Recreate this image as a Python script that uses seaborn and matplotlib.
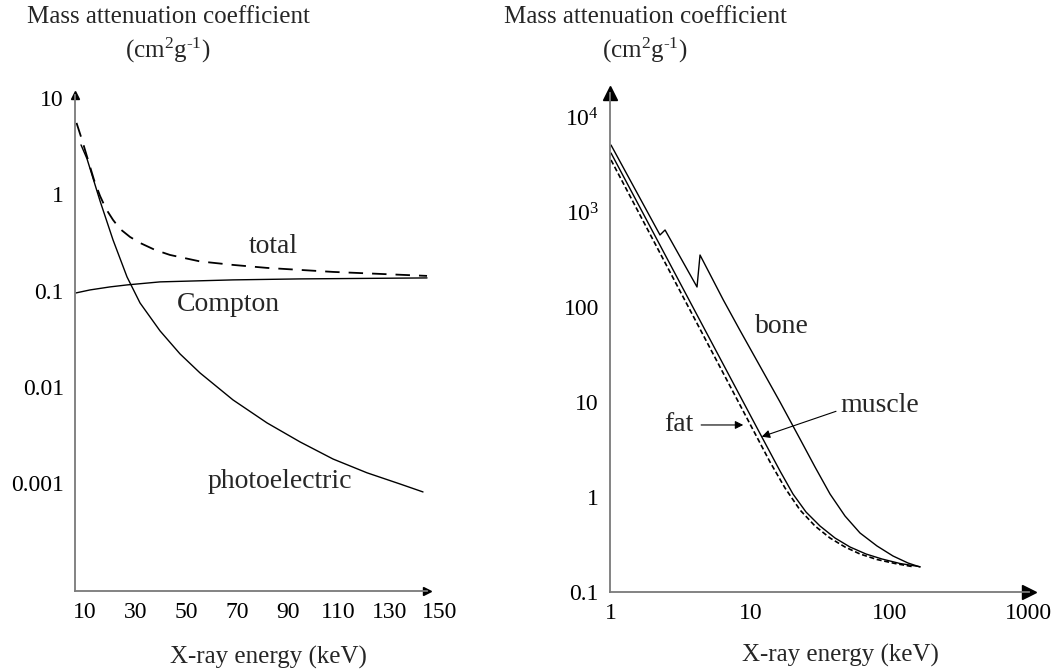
import matplotlib
matplotlib.use("Agg")
import matplotlib.pyplot as plt
from matplotlib.ticker import NullLocator
import seaborn as sns

# ---------------- left panel: water, linear energy axis ----------------
photo_energy = [8.42, 10.79, 15.92, 21.05, 26.57, 31.70, 39.59, 47.48, 55.36, 68.38,
                81.80, 94.81, 107.83, 121.24, 134.26, 143.33]
photo_value = [3.25, 2.33, 0.852, 0.335, 0.1384, 0.0743, 0.0381, 0.02196, 0.01394, 0.00731,
               0.00422, 0.00268, 0.00178, 0.00128, 0.00098, 0.00081]

total_energy = [6.65, 8.82, 11.18, 13.55, 15.92, 18.28, 21.05, 23.81, 27.75, 31.70,
                37.61, 43.53, 55.36, 68.38, 81.80, 107.83, 144.91]
total_value = [5.50, 3.66, 2.27, 1.408, 0.960, 0.704, 0.541, 0.436, 0.360, 0.312,
               0.264, 0.234, 0.2005, 0.1844, 0.1717, 0.156, 0.1418]

compton_energy = [6.45, 11.97, 19.86, 26.57, 39.59, 68.38, 94.81, 144.91]
compton_value = [0.0944, 0.1014, 0.109, 0.1143, 0.1229, 0.1289, 0.132, 0.1351]

left_xticks = [10, 30, 50, 70, 90, 110, 130, 150]
left_yticks = [10, 1, 0.1, 0.01, 0.001]
left_yticklabels = ["10", "1", "0.1", "0.01", "0.001"]

# ---------------- right panel: tissues, log energy axis ----------------
bone_energy = [1.0, 2.247, 2.443, 4.144, 4.355, 6.4, 8.4, 16.34, 22.74, 29.14, 37.35,
               47.84, 61.31, 81.22, 105.8, 135.6, 165.3]
bone_value = [5070, 573, 646.6, 162.4, 352.6, 118.6, 57.3, 10.0, 4.08, 2.07, 1.075,
              0.631, 0.418, 0.305, 0.2393, 0.2019, 0.1833]

muscle_energy = [1.0, 12.07, 16.34, 20.25, 25.11, 31.65, 40.56, 51.95, 67.70, 88.22,
                 118.8, 165.3]
muscle_value = [4180, 4.313, 1.878, 1.075, 0.695, 0.495, 0.370, 0.2977, 0.2512, 0.2225,
                0.1995, 0.1846]

fat_energy = [1.0, 13.85, 17.75, 22.74, 29.14, 37.35, 47.84, 61.31, 81.22, 109.4, 147.2]
fat_value = [3527, 2.336, 1.244, 0.730, 0.495, 0.370, 0.2977, 0.2512, 0.2198, 0.1995, 0.1846]

right_xticks = [1, 10, 100, 1000]
right_xticklabels = ["1", "10", "100", "1000"]
right_yticks = [0.1, 1, 10, 100, 1000, 10000]
right_yticklabels = ["0.1", "1", "10", "100", r"$10^3$", r"$10^4$"]

# ---------------- style ----------------
sns.set_theme(style="white")
plt.rcParams["font.family"] = ["Liberation Serif", "DejaVu Serif"]
plt.rcParams["mathtext.fontset"] = "custom"
plt.rcParams["mathtext.rm"] = "Liberation Serif"
plt.rcParams["mathtext.it"] = "Liberation Serif:italic"
plt.rcParams["mathtext.bf"] = "Liberation Serif:bold"

W, H = 1060, 672
fig = plt.figure(figsize=(W / 100, H / 100), dpi=100)
fig.patch.set_facecolor("white")

axL = fig.add_axes([75 / W, 81 / H, 377.6 / W, 496 / H])
axR = fig.add_axes([610.1 / W, 80 / H, 432.3 / W, 498.75 / H])

LW = 1.0
TICK_FS = 17
LABEL_FS = 20
TITLE_FS = 18
SPINE_C = "#7a7a7a"

# left curves
sns.lineplot(x=photo_energy, y=photo_value, ax=axL, color="black", lw=LW,
             estimator=None, sort=False)
sns.lineplot(x=compton_energy, y=compton_value, ax=axL, color="black", lw=LW,
             estimator=None, sort=False)
sns.lineplot(x=total_energy, y=total_value, ax=axL, color="black", lw=1.3,
             estimator=None, sort=False, linestyle=(0, (8, 5)))

# right curves
sns.lineplot(x=bone_energy, y=bone_value, ax=axR, color="black", lw=LW,
             estimator=None, sort=False)
sns.lineplot(x=muscle_energy, y=muscle_value, ax=axR, color="black", lw=LW,
             estimator=None, sort=False)
sns.lineplot(x=fat_energy, y=fat_value, ax=axR, color="black", lw=1.2,
             estimator=None, sort=False, linestyle=(0, (3, 1.6)))

for ax in (axL, axR):
    ax.set_yscale("log")
    ax.set_facecolor("white")
    ax.grid(False)
    for s in ("top", "right"):
        ax.spines[s].set_visible(False)
    for s in ("left", "bottom"):
        ax.spines[s].set_color(SPINE_C)
        ax.spines[s].set_linewidth(1.3)
    ax.set_xlabel("")
    ax.set_ylabel("")

# left axes setup
axL.set_xlim(6.05, 155)
axL.set_ylim(10 ** -4.12, 10 ** 1.03)
axL.spines["bottom"].set_bounds(6.05, 144.9)
axL.set_xticks(left_xticks)
axL.set_xticklabels([str(v) for v in left_xticks])
axL.set_yticks(left_yticks)
axL.set_yticklabels(left_yticklabels)
axL.yaxis.set_minor_locator(NullLocator())
axL.tick_params(axis="both", length=0, labelsize=TICK_FS, colors="black")
axL.tick_params(axis="y", pad=8)
axL.tick_params(axis="x", pad=8)
axL.plot(144.9, 0, ">", color="black", ms=6, transform=axL.get_xaxis_transform(), clip_on=False)
axL.plot(0, 1, "^", color="black", ms=6, transform=axL.transAxes, clip_on=False)

axL.text(84.2, 0.284, "total", fontsize=LABEL_FS, ha="center", va="center")
axL.text(66.4, 0.0708, "Compton", fontsize=LABEL_FS, ha="center", va="center")
axL.text(86.9, 0.00103, "photoelectric", fontsize=LABEL_FS, ha="center", va="center")

# right axes setup
axR.set_xscale("log")
axR.set_xlim(0.985, 1250)
axR.set_ylim(0.1, 10 ** 4.25)
axR.spines["bottom"].set_bounds(0.985, 1000)
axR.set_xticks(right_xticks)
axR.set_xticklabels(right_xticklabels)
axR.set_yticks(right_yticks)
axR.set_yticklabels(right_yticklabels)
axR.xaxis.set_minor_locator(NullLocator())
axR.yaxis.set_minor_locator(NullLocator())
axR.tick_params(axis="both", length=0, labelsize=TICK_FS, colors="black")
axR.tick_params(axis="y", pad=8)
axR.tick_params(axis="x", pad=8)
axR.plot(1000, 0, ">", color="black", ms=10, transform=axR.get_xaxis_transform(), clip_on=False)
axR.plot(0, 1, "^", color="black", ms=10, transform=axR.transAxes, clip_on=False)

axR.text(16.8, 62, "bone", fontsize=LABEL_FS, ha="center", va="center")
arrow = dict(arrowstyle="-|>", color="black", lw=0.8, shrinkA=1, shrinkB=0,
             mutation_scale=12)
axR.annotate("muscle", xy=(12.07, 4.31), xytext=(85.3, 9.08), fontsize=LABEL_FS,
             ha="center", va="center", arrowprops=dict(arrow, relpos=(0.0, 0.35)))
axR.annotate("fat", xy=(8.9, 5.73), xytext=(3.08, 5.73), fontsize=LABEL_FS,
             ha="center", va="center", arrowprops=dict(arrow, shrinkA=3))

# titles and axis labels
for cx in (168, 645):
    fig.text(cx / W, 1 - 17 / H, "Mass attenuation coefficient", fontsize=TITLE_FS,
             ha="center", va="center")
    fig.text(cx / W, 1 - 50 / H, r"(cm$^2$g$^{\text{-}1}$)", fontsize=TITLE_FS,
             ha="center", va="center")
fig.text(268 / W, 1 - 657 / H, "X-ray energy (keV)", fontsize=TITLE_FS, ha="center", va="center")
fig.text(840 / W, 1 - 655 / H, "X-ray energy (keV)", fontsize=TITLE_FS, ha="center", va="center")

fig.savefig("out.png", dpi=100, facecolor="white")
